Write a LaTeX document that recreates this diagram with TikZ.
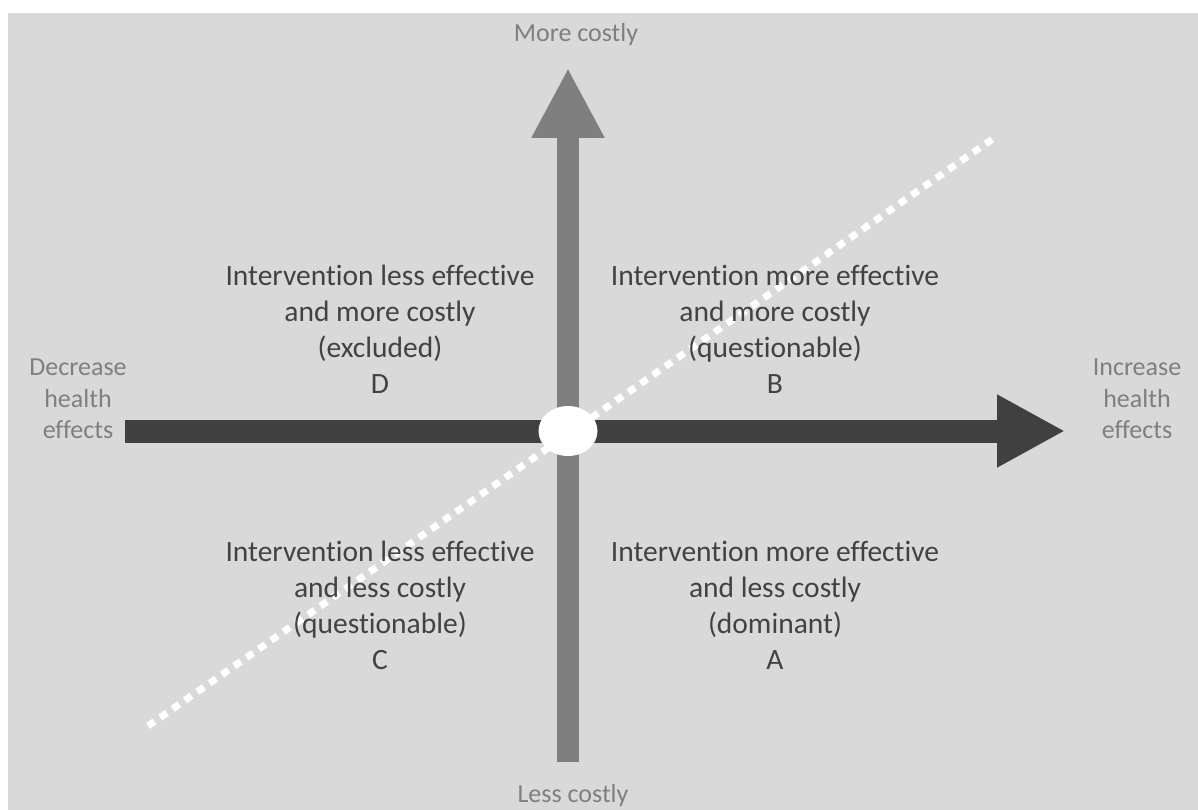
\documentclass[tikz,border=0pt]{standalone}
\usepackage{fontspec}
\setmainfont{Carlito}[Ligatures=NoCommon]
\usetikzlibrary{arrows.meta,shapes.geometric}
\definecolor{panel}{HTML}{D9D9D9}
\definecolor{axdark}{HTML}{404040}
\definecolor{axgray}{HTML}{7F7F7F}
\definecolor{quadtext}{HTML}{424242}
\definecolor{labtext}{HTML}{7F7F7F}
\begin{document}
\begin{tikzpicture}[x=1pt,y=-1pt,
  quad/.style={font=\fontsize{29.5}{36}\selectfont, text=quadtext, align=center, inner sep=0pt},
  axislabel/.style={font=\fontsize{26}{31.5}\selectfont, text=labtext, align=center, inner sep=0pt},
  costarrow/.style={line width=22pt, -{Triangle[length=70pt,width=68pt]}},
  healtharrow/.style={line width=23pt, -{Triangle[length=68pt,width=68pt]}},
  shade/.style={draw=black, opacity=0.12, shift={(2,3)}},
  threshold/.style={draw=white, line width=7pt, dash pattern=on 8pt off 7pt}]
\useasboundingbox (0,0) rectangle (1198,810);
\fill[panel] (8,13) rectangle (1198,810);

% axis end points
\coordinate (costlow) at (568,762);
\coordinate (costhigh) at (568,68);
\coordinate (healthlow) at (125,431);
\coordinate (healthhigh) at (1065,431);
\coordinate (wtplow) at (148,726);
\coordinate (wtphigh) at (994,138);

% soft shadows under the axes
\draw[costarrow, shade] (costlow) -- (costhigh);
\draw[healtharrow, shade] (healthlow) -- (healthhigh);

% cost axis (vertical) and health axis (horizontal)
\draw[costarrow, draw=axgray, fill=axgray] (costlow) -- (costhigh);
\draw[healtharrow, draw=axdark, fill=axdark] (healthlow) -- (healthhigh);

% threshold line through the origin
\draw[threshold] (wtplow) -- (wtphigh);

% origin marker
\node[ellipse, fill=white, minimum width=59pt, minimum height=50pt, inner sep=0pt] (origin) at (568,431) {};

% quadrant descriptions
\node[quad] (qD) at (380,329.5) {Intervention less effective\\and more costly\\(excluded)\\D};
\node[quad] (qB) at (775,329.5) {Intervention more effective\\and more costly\\(questionable)\\B};
\node[quad] (qC) at (380,605.5) {Intervention less effective\\and less costly\\(questionable)\\C};
\node[quad] (qA) at (775,605.5) {Intervention more effective\\and less costly\\(dominant)\\A};

% axis labels
\node[axislabel] (dec) at (78,399) {Decrease\\health\\effects};
\node[axislabel] (inc) at (1137,399) {Increase\\health\\effects};
\node[axislabel, anchor=base] (more) at (576,42) {More costly};
\node[axislabel, anchor=base] (less) at (573,802) {Less costly};
\end{tikzpicture}
\end{document}
